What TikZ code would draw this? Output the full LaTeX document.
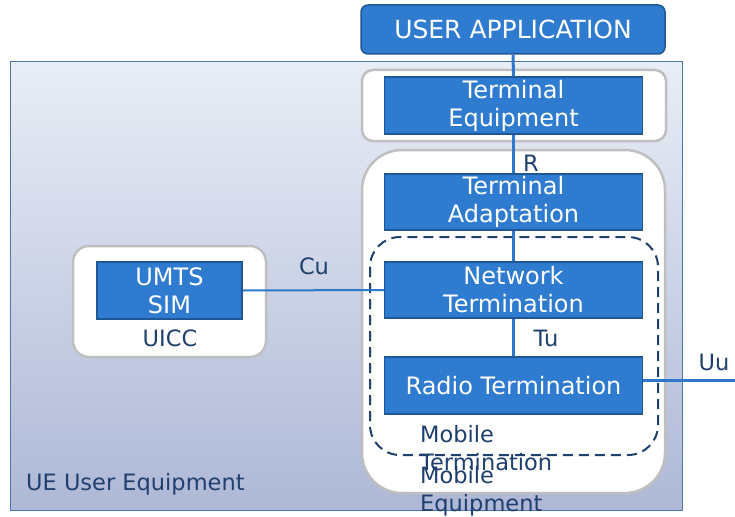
\documentclass[tikz,border=0pt]{standalone}
\usepackage{fontspec}
\setmainfont{DejaVu Sans}
\definecolor{boxblue}{HTML}{2F7BD0}
\definecolor{boxedge}{HTML}{1F5696}
\definecolor{navy}{HTML}{1F3F6E}
\definecolor{linkblue}{HTML}{2E78CC}
\definecolor{graybd}{HTML}{BFBFBF}
\definecolor{uetop}{HTML}{E9EDF6}
\definecolor{uebot}{HTML}{AEB8D6}
\definecolor{ueedge}{HTML}{4F74A8}
\tikzset{
  txt/.style={font=\fontsize{22.5}{28}\selectfont},
  bluebox/.style={font=\fontsize{24}{28}\selectfont, draw=boxedge, line width=1.5pt, fill=boxblue, text=white, align=center, inner sep=0pt},
  holder/.style={draw=graybd, line width=2.5pt, fill=white},
  label/.style={txt, text=navy, inner sep=0pt},
  link/.style={draw=linkblue, line width=3pt},
  thinlink/.style={draw=linkblue, line width=2pt}
}
\begin{document}
\begin{tikzpicture}[x=1pt,y=-1pt]
\useasboundingbox (0,0) rectangle (735,516);
% UE box
\shade[top color=uetop, bottom color=uebot] (10,62) rectangle (682,510);
\draw[ueedge, line width=1pt] (10,62) rectangle (682,510);
% containers
\draw[holder, rounded corners=11pt] (362,70) rectangle (666,141);
\draw[holder, rounded corners=40pt] (362,150) rectangle (665,493);
\draw[holder, rounded corners=16pt] (73,246) rectangle (266,357);
\draw[navy, line width=2pt, dash pattern=on 10pt off 6pt, rounded corners=30pt] (370,237) rectangle (658,455);
% user application
\node[bluebox, rounded corners=7pt, minimum width=304pt, minimum height=49pt, font=\fontsize{25}{28}\selectfont] (ua) at (513,29.5) {USER APPLICATION};
\node[bluebox, minimum width=258pt, minimum height=57pt] (te) at (513.5,105.5) {Terminal\\Equipment};
\node[bluebox, minimum width=258pt, minimum height=56pt] (ta) at (513.5,202) {Terminal\\Adaptation};
\node[bluebox, minimum width=258pt, minimum height=56pt] (nt) at (513.5,290) {Network\\Termination};
\node[bluebox, minimum width=258pt, minimum height=57pt] (rt) at (513.5,385.5) {Radio Termination};
\node[bluebox, minimum width=145pt, minimum height=57pt] (sim) at (169.5,290.5) {UMTS\\SIM};
\coordinate (uuend) at (735,380);
% connectors
\draw[link] (ua.south) -- (te.north);
\draw[link] (te.south) -- (ta.north);
\draw[link] (ta.south) -- (nt.north);
\draw[link] (nt.south) -- (rt.north);
\draw[thinlink] (sim.east) -- (nt.west);
\draw[link] (rt.east |- uuend) -- (uuend);
% labels
\node[label] (lr) at (531,163) {R};
\node[label] (lcu) at (314,266) {Cu};
\node[label] (ltu) at (546,338) {Tu};
\node[label] (luu) at (714,362) {Uu};
\node[label] (luicc) at (170,338) {UICC};
\node[label, anchor=west, align=left] (lmt) at (420,448.5) {Mobile\\Termination};
\node[label, anchor=west, align=left] (lme) at (420,491) {Mobile\\Equipment};
\node[label, anchor=west] (lue) at (26,484) {UE User Equipment};
\end{tikzpicture}
\end{document}
